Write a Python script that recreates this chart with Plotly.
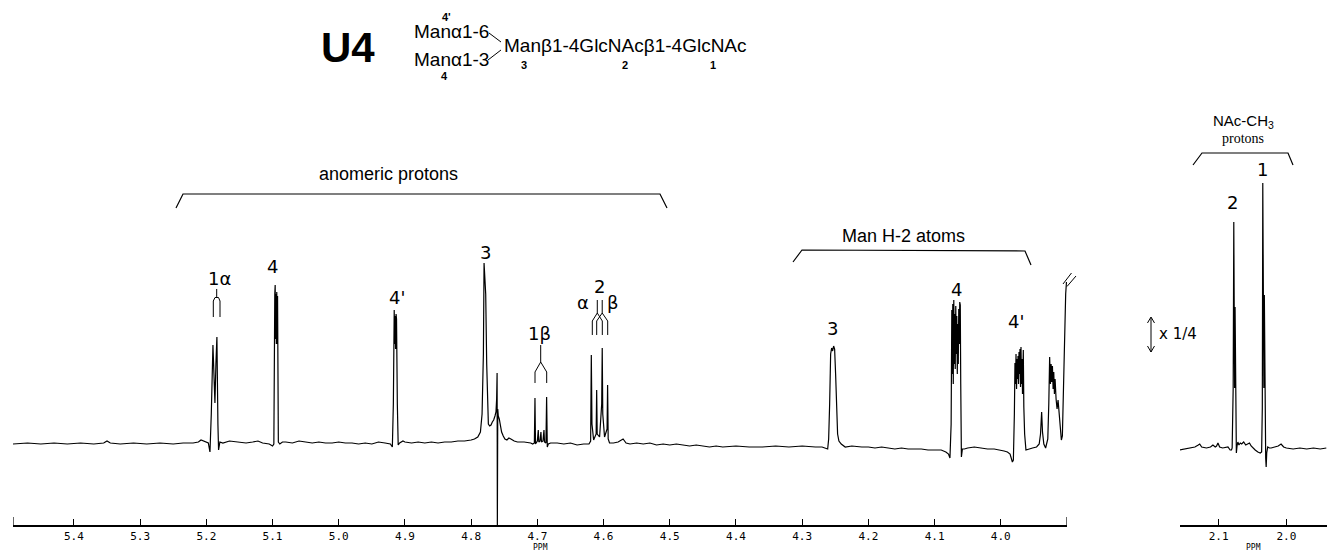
import plotly.graph_objects as go

W, H = 1327, 552

# ---------------- data (ppm, relative intensity) ----------------
anomeric_region = [
    (5.492, 0), (5.47, 1), (5.45, 0), (5.43, 1), (5.41, 0), (5.39, 1), (5.37, 0), (5.355, 1),
    (5.350, 3), (5.345, 1), (5.33, 0), (5.31, 1), (5.29, 0), (5.27, 1), (5.25, 0), (5.235, 1),
    (5.22, 1), (5.212, 2), (5.208, 4), (5.205, 3), (5.200, 2), (5.197, 1),
    # GlcNAc-1 alpha H-1
    (5.1945, -8), (5.1925, 30), (5.1900, 99), (5.1885, 60), (5.1870, 41), (5.1855, 80),
    (5.1840, 107), (5.1825, 20), (5.1815, -6), (5.1795, 2),
    (5.175, 1), (5.165, 3), (5.155, 2), (5.14, 1), (5.13, 2), (5.122, 3), (5.115, 1), (5.105, 0),
    (5.100, -2),
    # Man-4 H-1
    (5.0980, 0), (5.0966, 150), (5.0960, 159), (5.0954, 105), (5.0948, 150), (5.0942, 100),
    (5.0936, 152), (5.0930, 100), (5.0924, 148), (5.0912, 2), (5.089, 0),
    (5.085, 2), (5.08, 2), (5.07, 1), (5.06, 3), (5.05, 2), (5.04, 1), (5.03, 2), (5.02, 1),
    (5.01, 1), (5.00, 2), (4.99, 1), (4.98, 1), (4.97, 0), (4.96, 1), (4.95, 0), (4.94, 2),
    (4.93, 1), (4.922, 0), (4.919, -3),
    # Man-4' H-1
    (4.9175, 40), (4.9162, 134), (4.9155, 100), (4.9148, 128), (4.9141, 95), (4.9134, 130),
    (4.9127, 125), (4.9115, 40), (4.9102, -1),
    (4.908, 1), (4.903, 3), (4.90, 2), (4.89, 1), (4.88, 2), (4.87, 1), (4.86, 2), (4.85, 1),
    (4.84, 2), (4.83, 2), (4.82, 3), (4.81, 3), (4.80, 4), (4.795, 5), (4.790, 7), (4.786, 12),
    # Man-3 H-1 and HDO
    (4.7835, 30), (4.7815, 90), (4.7805, 181), (4.7795, 170), (4.7780, 150), (4.7765, 80),
    (4.7752, 30), (4.7740, 20), (4.7720, 18), (4.7700, 19), (4.7680, 22), (4.7660, 24),
    (4.7640, 28), (4.7625, 32), (4.7615, 45), (4.7608, 71), (4.7604, -81), (4.7598, 35),
    (4.7590, 28), (4.7575, 25), (4.7560, 18), (4.7540, 12), (4.7515, 8), (4.749, 5),
    (4.746, 4), (4.743, 6), (4.740, 5), (4.735, 3), (4.73, 2), (4.72, 2), (4.71, 1), (4.707, 0),
    # GlcNAc-1 beta H-1
    (4.7045, 1), (4.7036, 46), (4.7028, 0), (4.7000, 3), (4.6986, 14), (4.6978, 2),
    (4.6960, 3), (4.6946, 12), (4.6938, 2), (4.6915, 3), (4.6900, 14), (4.6892, 2),
    (4.6870, 1), (4.6860, 47), (4.6850, -3), (4.6835, 0),
    (4.680, 1), (4.67, 1), (4.66, 0), (4.65, 1), (4.64, -1), (4.63, 0), (4.622, 0),
    # GlcNAc-2 H-1 (alpha / beta)
    (4.6195, 3), (4.6185, 89), (4.6175, 20), (4.6150, 4), (4.6112, 10), (4.6104, 54),
    (4.6096, 10), (4.6060, 7), (4.6028, 40), (4.6020, 96), (4.6012, 30), (4.5985, 7),
    (4.5947, 15), (4.5939, 59), (4.5930, 5), (4.591, 1),
    (4.585, 1), (4.578, 2), (4.5705, 5), (4.566, 1), (4.56, 0), (4.55, 1), (4.54, 0),
    (4.53, 1), (4.52, -1), (4.51, 0), (4.50, -1), (4.49, 0), (4.48, -1), (4.47, -2),
    (4.46, -1), (4.45, -2),
]

man_h2_region = [
    (4.44, -3), (4.43, -2), (4.42, -3), (4.40, -2), (4.38, -3), (4.36, -3), (4.34, -2),
    (4.32, -3), (4.30, -2), (4.28, -3), (4.27, -3), (4.2615, -5),
    # Man-3 H-2
    (4.2600, 5), (4.2585, 40), (4.2570, 90), (4.2555, 96), (4.2540, 93), (4.2525, 98),
    (4.2510, 95), (4.2495, 70), (4.2480, 25), (4.2465, 10), (4.2445, 3), (4.241, 0),
    (4.235, -3), (4.225, -2), (4.21, -3), (4.20, -3), (4.19, -4), (4.18, -3), (4.17, -4),
    (4.16, -5), (4.15, -4), (4.14, -5), (4.13, -5), (4.12, -5), (4.11, -6), (4.10, -6),
    (4.09, -6), (4.083, -8), (4.079, -10), (4.0768, -14),
    # Man-4 H-2
    (4.0750, 20), (4.0740, 134), (4.0732, 70), (4.0725, 140), (4.0718, 60), (4.0710, 144),
    (4.0702, 80), (4.0695, 130), (4.0688, 75), (4.0680, 138), (4.0672, 90), (4.0665, 128),
    (4.0657, 70), (4.0650, 120), (4.0642, 80), (4.0635, 135), (4.0627, 100), (4.0620, 142),
    (4.0612, 139), (4.0605, 60), (4.0595, -13), (4.0580, -5),
    (4.055, -5), (4.05, -4), (4.04, -3), (4.03, -4), (4.02, -5), (4.01, -5), (4.00, -6),
    (3.995, -7), (3.99, -8), (3.986, -10), (3.9825, -18),
    # Man-4' H-2
    (3.9810, -16), (3.9795, 30), (3.9786, 81), (3.9778, 60), (3.9770, 90), (3.9762, 55),
    (3.9755, 85), (3.9747, 65), (3.9740, 88), (3.9732, 60), (3.9725, 92), (3.9717, 70),
    (3.9710, 95), (3.9702, 57), (3.9695, 97), (3.9687, 60), (3.9680, 85), (3.9672, 50),
    (3.9665, 92), (3.9660, 94), (3.9652, 37), (3.9640, 10), (3.9620, -6),
    (3.958, -5), (3.952, -4), (3.946, -3), (3.942, 0), (3.940, 10), (3.9383, 32),
    (3.9370, 12), (3.935, 0), (3.9323, -4), (3.9290, 5), (3.9275, 40), (3.9262, 87),
    (3.9250, 60), (3.9240, 80), (3.9230, 62), (3.9220, 78), (3.9210, 55), (3.9200, 72),
    (3.9190, 50), (3.9180, 65), (3.9165, 45), (3.9150, 35), (3.9135, 44), (3.9120, 30),
    (3.9106, 24), (3.9095, 10), (3.9085, 4), (3.9070, 8), (3.9055, 50), (3.9040, 110),
    (3.9020, 150), (3.9008, 162),
]

nac_region = [
    (2.1574, -2), (2.150, -1), (2.140, 0), (2.135, 1), (2.130, 3), (2.1279, 4), (2.125, 1),
    (2.118, 0), (2.112, 1), (2.1084, 3), (2.105, 1), (2.1030, 2), (2.1010, 5), (2.0985, 1),
    (2.094, 0), (2.089, 1), (2.0862, 1), (2.0830, -2), (2.0810, -2), (2.0800, 0),
    # GlcNAc-2 NAc
    (2.0785, 60), (2.0776, 226), (2.0770, 140), (2.0764, 60), (2.0757, 141), (2.0748, 40),
    (2.0738, -5), (2.0728, 2), (2.0716, 6), (2.0700, 3), (2.068, 5), (2.066, 4), (2.063, 6),
    (2.060, 3), (2.0565, 4), (2.0544, 5), (2.052, 2), (2.0495, 0), (2.046, -2), (2.0421, -4),
    (2.0385, -5), (2.0365, -4),
    # GlcNAc-1 NAc
    (2.0355, 40), (2.0348, 265), (2.0340, 150), (2.0332, 60), (2.0325, 153), (2.0315, 30),
    (2.0305, -10), (2.0298, -19), (2.0290, -5), (2.0275, 1), (2.0250, 0), (2.0225, 0),
    (2.018, 1), (2.012, 2), (2.0078, 4), (2.004, 1), (2.00, 0), (1.99, -1), (1.98, 0),
    (1.97, -1), (1.96, 0), (1.95, -1), (1.941, 0),
]

main_ticks = [5.4, 5.3, 5.2, 5.1, 5.0, 4.9, 4.8, 4.7, 4.6, 4.5, 4.4, 4.3, 4.2, 4.1, 4.0]
nac_ticks = [2.1, 2.0]

main_peak_labels = ["1α", "4", "4'", "3", "1β", "α", "2", "β", "3", "4", "4'"]
main_peak_ppm = [5.1795, 5.0994, 4.9121, 4.7777, 4.6961, 4.6311, 4.6055, 4.5858, 4.2535, 4.0676, 3.977]
nac_peak_labels = ["2", "1"]
nac_peak_ppm = [2.0794, 2.0353]

# ---------------- layout constants ----------------
X_MAIN = [5.492, 3.90]
X_NAC = [2.157, 1.94]
AXIS_PX = 525
ydom0 = (H - AXIS_PX) / H

main_label_y = [166, 178, 147, 192, 111, 142, 158, 142, 116, 155, 123]
nac_label_y = [246, 279]


def P(x, y):
    return x / W, 1 - y / H


def path(pts):
    return "M " + " L ".join(f"{x / W:.5f},{1 - y / H:.5f}" for x, y in pts)


main_pts = anomeric_region + man_h2_region
fig = go.Figure()
fig.add_trace(go.Scatter(
    x=[p[0] for p in main_pts], y=[p[1] for p in main_pts], mode="lines",
    line=dict(color="black", width=1.2), xaxis="x", yaxis="y", hoverinfo="skip"))
fig.add_trace(go.Scatter(
    x=[p[0] for p in nac_region], y=[p[1] for p in nac_region], mode="lines",
    line=dict(color="black", width=1.2), xaxis="x2", yaxis="y2", hoverinfo="skip"))

axis_common = dict(
    showline=True, linecolor="black", linewidth=1.5, ticks="inside", ticklen=6,
    tickwidth=1, tickcolor="black", showgrid=False, zeroline=False, automargin=False,
    tickfont=dict(family="DejaVu Sans Mono", size=11, color="black"),
)

fig.update_layout(
    width=W, height=H, margin=dict(l=0, r=0, t=0, b=0),
    paper_bgcolor="white", plot_bgcolor="white", showlegend=False,
    xaxis=dict(domain=[13 / W, 1067 / W], range=X_MAIN, anchor="y",
               tickvals=main_ticks, ticktext=[f"{t:.1f}" for t in main_ticks], **axis_common),
    yaxis=dict(domain=[ydom0, 1], range=[-81, 444], visible=False, anchor="x"),
    xaxis2=dict(domain=[1180 / W, 1], range=X_NAC, anchor="y2",
                tickvals=nac_ticks, ticktext=[f"{t:.1f}" for t in nac_ticks], **axis_common),
    yaxis2=dict(domain=[ydom0, 1], range=[-77, 448], visible=False, anchor="x2"),
)

shapes = []
line_style = dict(color="black", width=1.2)
# axis end ticks
for xv in (X_MAIN[0], X_MAIN[1]):
    shapes.append(dict(type="line", xref="x", yref="paper", x0=xv, x1=xv,
                       y0=ydom0, y1=ydom0 + 8 / H, line=dict(color="black", width=1.2)))
# brackets
for pts in ([(176, 208), (183, 194), (660, 194), (667, 208)],
            [(793, 262), (802, 250), (1025, 251), (1031, 265)],
            [(1193, 165), (1202, 153), (1288, 153), (1293, 165)]):
    shapes.append(dict(type="path", xref="paper", yref="paper", path=path(pts), line=line_style))
# peak tree markers
trees = [
    [(216.7, 289), (216.7, 297)],
    [(213.3, 317), (213.3, 301), (215, 297.5), (218.5, 297.5), (220, 301), (220, 317)],
    [(540.7, 345), (540.7, 362)],
    [(535, 383), (535, 372), (540.7, 362), (546.7, 372), (546.7, 383)],
    [(597.3, 300), (597.3, 313)],
    [(592.3, 335), (592.3, 321), (597.3, 313), (602.3, 321), (602.3, 335)],
    [(602.2, 300), (602.2, 313)],
    [(596.7, 335), (596.7, 321), (602.2, 313), (607.7, 321), (607.7, 335)],
]
for pts in trees:
    shapes.append(dict(type="path", xref="paper", yref="paper", path=path(pts),
                       line=dict(color="black", width=1)))
# break mark
for pts in ([(1063, 284), (1071.5, 273)], [(1067, 286.5), (1076, 276)]):
    shapes.append(dict(type="path", xref="paper", yref="paper", path=path(pts),
                       line=dict(color="black", width=1)))
# structure connectors
for pts in ([(489, 33), (501, 42)], [(488, 60), (501, 50)]):
    shapes.append(dict(type="path", xref="paper", yref="paper", path=path(pts),
                       line=dict(color="black", width=1)))
# x 1/4 double arrow
for pts in ([(1151, 318), (1151, 352)], [(1147.5, 323), (1151, 317), (1154.5, 323)],
            [(1147.5, 346), (1151, 352), (1154.5, 346)]):
    shapes.append(dict(type="path", xref="paper", yref="paper", path=path(pts),
                       line=dict(color="black", width=1)))
fig.update_layout(shapes=shapes)

ann = []
lab_font = dict(family="DejaVu Sans", size=18, color="black")
for t, xv, yv in zip(main_peak_labels, main_peak_ppm, main_label_y):
    ann.append(dict(text=t, x=xv, y=yv, xref="x", yref="y", showarrow=False, font=lab_font))
for t, xv, yv in zip(nac_peak_labels, nac_peak_ppm, nac_label_y):
    ann.append(dict(text=t, x=xv, y=yv, xref="x2", yref="y2", showarrow=False, font=lab_font))


def txt(t, x, y, size, family="Liberation Sans", xanchor="center", bold=False):
    x0, y0 = P(x, y)
    ann.append(dict(text=f"<b>{t}</b>" if bold else t, x=x0, y=y0, xref="paper", yref="paper",
                    xanchor=xanchor, yanchor="middle", showarrow=False,
                    font=dict(family=family, size=size, color="black")))


txt("U4", 348, 47, 42, bold=True)
txt("4'", 446, 17, 11, bold=True)
txt("Manα1-6", 412, 31, 19, xanchor="left")
txt("Manα1-3", 412, 59, 19, xanchor="left")
txt("4", 445, 76, 11, bold=True)
txt("Manβ1-4GlcNAcβ1-4GlcNAc", 502, 45, 19, xanchor="left")
txt("3", 524, 65, 11, bold=True)
txt("2", 625, 65, 11, bold=True)
txt("1", 713, 65, 11, bold=True)
txt("anomeric protons", 388, 174, 18)
txt("Man H-2 atoms", 903, 236, 18)
txt("NAc-CH<sub>3</sub>", 1243, 122, 15)
txt("protons", 1243, 138, 14, family="Liberation Serif")
txt("x 1/4", 1157, 334, 15, family="DejaVu Sans", xanchor="left")
# PPM axis titles
for xr, xv in (("x", sum(X_MAIN) / 2), ("x2", sum(X_NAC) / 2)):
    ann.append(dict(text="PPM", x=xv, y=1 - 547.5 / H, xref=xr, yref="paper", showarrow=False,
                    yanchor="middle", font=dict(family="DejaVu Sans Mono", size=8, color="black")))
fig.update_layout(annotations=ann)

fig.write_html("out.html")
